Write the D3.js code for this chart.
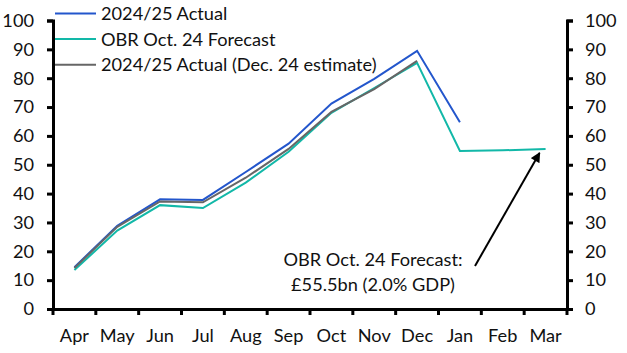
<!DOCTYPE html>
<html>
<head>
<meta charset="utf-8">
<script src="https://cdn.jsdelivr.net/npm/d3@7"></script>
<style>
  body { margin: 0; background: #fff; }
  svg text { font-family: Lato, "Open Sans", sans-serif; fill: #111; }
</style>
</head>
<body>
<svg id="chart" width="627" height="353"></svg>
<script>
const months = ["Apr", "May", "Jun", "Jul", "Aug", "Sep", "Oct", "Nov", "Dec", "Jan", "Feb", "Mar"];
const actual = [14.5, 28.8, 38.0, 37.8, 47.5, 57.3, 71.2, 79.8, 89.5, 64.7];
const obrForecast = [13.5, 27.2, 36.0, 35.0, 43.8, 54.5, 68.0, 76.6, 85.3, 54.8, 55.0, 55.5];
const decEstimate = [14.2, 28.5, 37.3, 37.0, 45.5, 55.5, 68.3, 76.2, 86.0];
const yTicks = [0, 10, 20, 30, 40, 50, 60, 70, 80, 90, 100];

const series = [
  { name: "2024/25 Actual", values: actual, color: "#2356cc" },
  { name: "OBR Oct. 24 Forecast", values: obrForecast, color: "#12b8a8" },
  { name: "2024/25 Actual (Dec. 24 estimate)", values: decEstimate, color: "#666666" }
];

const fs = "18.2px";
const svg = d3.select("#chart");
const margin = { top: 20.5, right: 60, bottom: 44, left: 53 };
const width = 627 - margin.left - margin.right;
const height = 353 - margin.top - margin.bottom;

const x = d3.scaleBand().domain(months).range([0, width]);
const y = d3.scaleLinear().domain([0, 100]).range([height, 0]);

const g = svg.append("g").attr("transform", `translate(${margin.left},${margin.top})`);

// axes
const left = g.append("g").call(d3.axisLeft(y).tickValues(yTicks).tickSize(6).tickPadding(6));
const right = g.append("g").attr("transform", `translate(${width},0)`)
  .call(d3.axisRight(y).tickValues(yTicks).tickSize(6).tickPadding(12));
[left, right].forEach(a => {
  a.select(".domain").attr("stroke", "#000").attr("stroke-width", 3);
  a.selectAll(".tick line").attr("stroke", "#000").attr("stroke-width", 3);
  a.selectAll("text").style("font-size", fs).attr("fill", "#111");
});
left.selectAll("text").attr("x", -19);

const bottom = g.append("g").attr("transform", `translate(0,${height})`)
  .call(d3.axisBottom(x).tickSize(0).tickPadding(20));
bottom.select(".domain").attr("stroke", "#000").attr("stroke-width", 3);
bottom.selectAll("text").style("font-size", fs).attr("fill", "#111");

// tick marks between months
const bounds = months.map(m => x(m)).concat([width]);
g.append("g").selectAll("line").data(bounds).join("line")
  .attr("x1", d => d).attr("x2", d => d)
  .attr("y1", height).attr("y2", height + 6)
  .attr("stroke", "#000").attr("stroke-width", 3);

// lines
const line = d3.line()
  .x((d, i) => x(months[i]) + x.bandwidth() / 2)
  .y(d => y(d));

g.selectAll(".series").data(series).join("path")
  .attr("class", "series")
  .attr("fill", "none")
  .attr("stroke", d => d.color)
  .attr("stroke-width", 2)
  .attr("stroke-linejoin", "miter")
  .attr("d", d => line(d.values));

// legend
const legend = svg.append("g").attr("transform", "translate(55,13.5)");
const items = legend.selectAll("g").data(series).join("g")
  .attr("transform", (d, i) => `translate(0,${i * 25.6})`);
items.append("line").attr("x1", 0).attr("x2", 41)
  .attr("stroke", d => d.color).attr("stroke-width", 2);
items.append("text").attr("x", 46).attr("y", 6.5)
  .style("font-size", fs).text(d => d.name);

// annotation
svg.append("defs").append("marker")
  .attr("id", "arrow").attr("viewBox", "0 0 10 10")
  .attr("refX", 9).attr("refY", 5)
  .attr("markerWidth", 5.5).attr("markerHeight", 5)
  .attr("orient", "auto")
  .append("path").attr("d", "M0,0 L10,5 L0,10 Z").attr("fill", "#000");

const mar = x("Mar") + x.bandwidth() / 2;
g.append("line")
  .attr("x1", 475 - margin.left).attr("y1", 266 - margin.top)
  .attr("x2", mar - 6).attr("y2", y(obrForecast[11]) + 4)
  .attr("stroke", "#000").attr("stroke-width", 2)
  .attr("marker-end", "url(#arrow)");

const note = g.append("text").attr("text-anchor", "middle").style("font-size", fs);
note.append("tspan").attr("x", 373 - margin.left).attr("y", 266 - margin.top).text("OBR Oct. 24 Forecast:");
note.append("tspan").attr("x", 373 - margin.left).attr("y", 291 - margin.top).text("£55.5bn (2.0% GDP)");
</script>
</body>
</html>
